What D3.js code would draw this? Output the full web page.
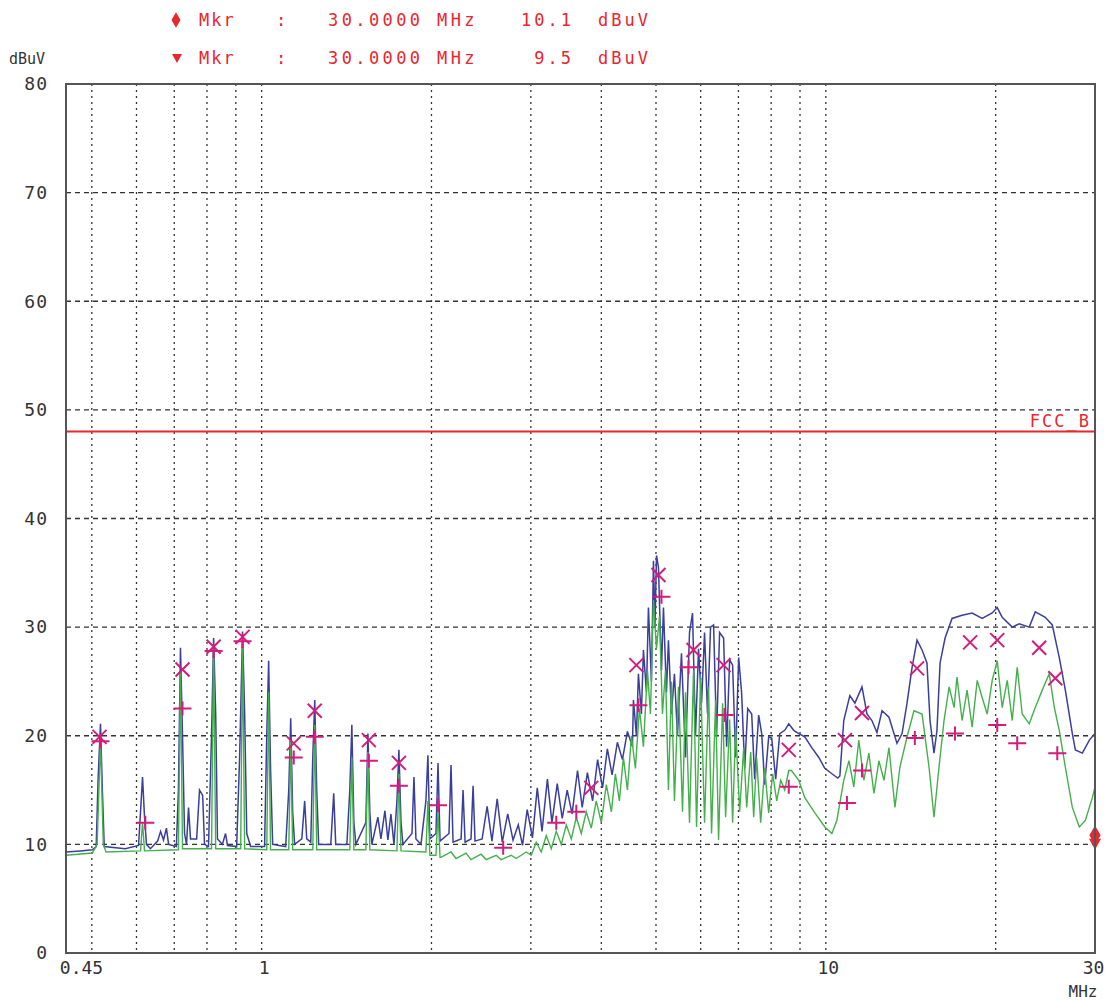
<!DOCTYPE html>
<html>
<head>
<meta charset="utf-8">
<script src="https://cdn.jsdelivr.net/npm/d3@7"></script>
<style>
  html, body { margin: 0; padding: 0; background: #fff; }
  svg { display: block; }
  text { font-family: "DejaVu Sans Mono", monospace; }
</style>
</head>
<body>
<div class="visualization"></div>
<script>
'use strict';

// peak detector trace (blue), [MHz, dBuV]
var peakTrace = [
  [0.450, 9.3], [0.477, 9.4], [0.501, 9.5], [0.509, 9.8], [0.513, 16], [0.518, 21.1], [0.522, 15], [0.526, 9.8],
  [0.573, 9.6], [0.605, 9.9], [0.610, 13], [0.615, 16.2], [0.620, 12.5], [0.625, 10], [0.635, 9.6],
  [0.654, 10.3], [0.662, 11.2], [0.670, 10.4], [0.678, 11.5], [0.684, 10], [0.706, 9.8], [0.712, 15],
  [0.718, 28.1], [0.724, 20], [0.730, 11], [0.736, 10], [0.742, 13.4], [0.748, 10.5], [0.767, 10.5],
  [0.776, 15], [0.786, 14.5], [0.792, 10], [0.805, 9.8], [0.815, 20], [0.822, 29.0], [0.829, 22],
  [0.835, 10.5], [0.852, 10], [0.863, 11], [0.870, 9.9], [0.903, 9.8], [0.914, 18], [0.925, 29.6],
  [0.933, 22], [0.941, 11], [0.956, 9.8], [1.012, 9.8], [1.021, 20], [1.029, 26.9], [1.037, 17],
  [1.046, 10], [1.103, 9.8], [1.117, 15], [1.126, 21.6], [1.135, 13], [1.144, 10], [1.178, 10.5],
  [1.192, 14], [1.202, 10.5], [1.222, 10.2], [1.232, 18], [1.242, 23.3], [1.252, 15], [1.262, 10],
  [1.326, 10], [1.342, 14.7], [1.353, 10], [1.416, 10], [1.433, 15], [1.445, 21], [1.457, 12],
  [1.469, 10], [1.530, 12], [1.543, 20.2], [1.555, 13], [1.568, 10], [1.607, 12.5], [1.627, 10.5],
  [1.654, 13.1], [1.674, 10.4], [1.695, 12.8], [1.716, 10], [1.737, 14], [1.751, 18.7], [1.766, 12],
  [1.780, 10], [1.847, 11], [1.862, 16.2], [1.877, 10.5], [1.916, 10], [1.955, 14], [1.971, 18.2],
  [1.987, 10.5], [2.037, 11], [2.054, 17.5], [2.071, 10.3], [2.148, 11], [2.166, 17.3], [2.184, 10.2],
  [2.257, 10.5], [2.275, 15], [2.294, 10.2], [2.350, 10.5], [2.370, 15.4], [2.389, 10.3], [2.459, 10.5],
  [2.51, 13.5], [2.56, 10.3], [2.615, 14.2], [2.67, 10.2], [2.73, 12.8], [2.79, 10.4], [2.85, 11.8],
  [2.90, 9.9], [2.956, 13.2], [3.02, 10.6], [3.08, 15.2], [3.14, 11.2], [3.21, 16.0], [3.27, 12],
  [3.342, 15.6], [3.41, 12.4], [3.48, 15.0], [3.55, 12.8], [3.63, 16.8], [3.70, 13.4], [3.779, 16.6],
  [3.86, 14.0], [3.94, 17.8], [4.02, 15.2], [4.10, 18.8], [4.18, 16.4], [4.271, 19.4], [4.36, 17.8],
  [4.45, 20.4], [4.542, 19.0], [4.560, 23.3],
  [4.616, 20], [4.654, 25.7], [4.711, 22], [4.750, 27.9], [4.809, 24], [4.848, 31.8], [4.908, 25],
  [4.949, 36.1], [4.980, 30], [5.010, 36.6], [5.051, 35.5], [5.113, 26], [5.155, 31.8], [5.218, 24],
  [5.261, 28.8], [5.326, 22], [5.391, 25.7], [5.458, 20], [5.548, 27.6], [5.640, 18], [5.733, 29.5],
  [5.804, 31.3], [5.875, 20], [5.948, 28], [6.022, 23], [6.096, 29.5], [6.171, 22], [6.247, 30],
  [6.325, 30.2], [6.403, 20], [6.482, 29.5], [6.589, 29], [6.671, 19], [6.753, 27], [6.836, 26.5],
  [6.920, 18], [7.007, 27.2], [7.093, 23.9], [7.181, 17], [7.270, 22.5], [7.390, 22], [7.480, 16],
  [7.603, 21.9], [7.697, 20.2], [7.792, 15.5], [7.920, 19.9], [8.018, 19.8], [8.150, 16], [8.285, 20.2],
  [8.456, 20.5], [8.596, 21.1], [8.774, 20.5], [8.954, 20.2], [9.177, 19.9], [9.443, 18.9], [9.719, 18],
  [9.960, 17], [10.25, 16.5], [10.50, 16.1], [10.59, 16.3], [10.76, 21.4], [11.03, 23.7], [11.26, 23],
  [11.59, 24.5], [11.83, 22], [12.07, 21.4], [12.32, 20.3], [12.58, 22.3], [12.94, 21.7], [13.37, 19.3],
  [13.65, 20.2], [13.93, 23], [14.22, 26.3], [14.51, 28.8], [14.81, 27.9], [15.11, 26.7], [15.30, 21.4],
  [15.55, 18.4], [15.74, 20.5], [15.94, 26.7], [16.27, 29], [16.74, 30.8], [17.44, 31.1], [18.17, 31.3],
  [18.93, 30.8], [19.72, 31.3], [20.13, 31.8], [20.54, 30.9], [21.40, 30], [22.02, 30.3], [22.94, 30],
  [23.51, 31.4], [24.49, 30.9], [25.20, 30.2], [25.93, 27.2], [26.58, 24.2], [27.35, 20.2], [27.69, 18.7],
  [28.49, 18.4], [29.32, 19.6], [30.0, 20.2]
];

// average detector trace (green), [MHz, dBuV]
var avgTrace = [
  [0.450, 9.0], [0.501, 9.2], [0.511, 10], [0.518, 19.5], [0.524, 10], [0.530, 9.3], [0.610, 9.4],
  [0.615, 12], [0.620, 9.4], [0.712, 9.5], [0.718, 26], [0.724, 9.6], [0.815, 9.6], [0.822, 28],
  [0.829, 9.6], [0.918, 9.6], [0.925, 28.5], [0.933, 9.6], [1.021, 9.5], [1.029, 24], [1.037, 9.5],
  [1.117, 9.5], [1.126, 19.5], [1.135, 9.5], [1.232, 9.5], [1.242, 21], [1.252, 9.5], [1.433, 9.5],
  [1.445, 18], [1.457, 9.5], [1.530, 9.5], [1.543, 18.5], [1.555, 9.5], [1.737, 9.4], [1.751, 16.5],
  [1.766, 9.4], [1.955, 9.3], [1.971, 14], [1.987, 9.0], [2.037, 9.0], [2.054, 13], [2.071, 8.8],
  [2.079, 8.8], [2.166, 9.3], [2.211, 8.7], [2.303, 9.2], [2.350, 8.6], [2.449, 9.1], [2.500, 8.6],
  [2.604, 9.0], [2.658, 8.6], [2.769, 9.0], [2.826, 8.7], [2.944, 9.3], [3.005, 9.0], [3.067, 10.2],
  [3.130, 9.3], [3.195, 10.8], [3.261, 9.6], [3.328, 11.2], [3.397, 10], [3.467, 11.8], [3.539, 10.5],
  [3.612, 12.5], [3.686, 11], [3.762, 13], [3.839, 11.5], [3.918, 14], [4.000, 12], [4.083, 15.5],
  [4.168, 13], [4.236, 16.5], [4.306, 14], [4.377, 18], [4.450, 15], [4.523, 20], [4.597, 17],
  [4.673, 22.5], [4.750, 19], [4.829, 26], [4.888, 22], [4.949, 32.5], [5.010, 28], [5.072, 31],
  [5.134, 22], [5.197, 26], [5.261, 15], [5.326, 25], [5.391, 14], [5.481, 24.5], [5.572, 13],
  [5.640, 24], [5.733, 12], [5.828, 26], [5.900, 11.6], [5.998, 25.4], [6.096, 12], [6.197, 24.5],
  [6.273, 11], [6.377, 23.3], [6.455, 10.4], [6.563, 23], [6.643, 12.5], [6.753, 21.5], [6.836, 12],
  [6.920, 20.8], [7.035, 13], [7.152, 18.9], [7.240, 13.4], [7.360, 18.5], [7.450, 12.5], [7.541, 18],
  [7.665, 12], [7.792, 17], [7.920, 12.9], [8.051, 16.5], [8.184, 14], [8.319, 15.9], [8.456, 15],
  [8.596, 16.8], [8.690, 16.8], [8.954, 15.9], [9.177, 14.3], [9.561, 12.9], [9.960, 11.6], [10.25, 11],
  [10.46, 12.2], [10.76, 15.9], [10.99, 17.7], [11.21, 15.3], [11.44, 19.6], [11.68, 15.9], [11.92, 18.4],
  [12.17, 14.7], [12.42, 17.7], [12.68, 15.9], [12.94, 18.9], [13.26, 13.4], [13.53, 17.1], [13.93, 19.9],
  [14.33, 22.3], [14.81, 22], [15.24, 17.1], [15.55, 12.5], [15.87, 17.1], [16.20, 21.4], [16.54, 24.5],
  [16.88, 22.6], [17.08, 25.4], [17.44, 21.4], [17.80, 24.2], [18.17, 20.8], [18.55, 25.1], [18.93, 23.5],
  [19.32, 22], [19.72, 25.1], [20.13, 26.9], [20.54, 22.6], [20.97, 25.1], [21.40, 21.4], [21.84, 26.3],
  [22.29, 22], [22.94, 21.1], [23.51, 22.6], [24.19, 24.2], [24.89, 25.7], [25.41, 22.6], [25.93, 20.5],
  [26.58, 17.1], [27.35, 13.4], [28.14, 11.6], [28.84, 12.2], [29.68, 14.3], [30.0, 15.3]
];

// final measurement results: quasi-peak (x) and average (+)
var qpMarks = [
  [0.516, 19.9], [0.724, 26.1], [0.822, 28.2], [0.925, 29.1], [1.14, 19.3], [1.242, 22.3], [1.549, 19.6],
  [1.751, 17.5], [3.839, 15.2], [4.616, 26.5], [5.051, 34.8], [5.828, 27.9], [6.589, 26.5], [8.596, 18.7],
  [10.81, 19.6], [11.59, 22.1], [14.51, 26.2], [18.02, 28.6], [20.13, 28.8], [23.89, 28.1], [25.51, 25.3]
];
var avMarks = [
  [0.518, 19.5], [0.622, 12.0], [0.724, 22.5], [0.822, 27.8], [0.925, 28.7], [1.14, 18.0], [1.242, 19.9],
  [1.549, 17.7], [1.751, 15.4], [2.054, 13.6], [2.68, 9.7], [3.328, 12.0], [3.612, 13.0], [4.654, 22.8],
  [5.113, 32.8], [5.71, 26.3], [6.616, 21.9], [8.596, 15.3], [10.90, 13.8], [11.59, 16.8], [14.38, 19.8],
  [16.94, 20.2], [20.13, 21.0], [21.84, 19.3], [25.72, 18.4]
];

var limitLevel = 48;
var limitName  = 'FCC_B';

var yTicks       = [0, 10, 20, 30, 40, 50, 60, 70, 80];
var xTickValues  = [0.45, 1, 10, 30];
var xTickLabels  = ['0.45', '1', '10', '30'];
var gridFreqs    = [0.5, 0.6, 0.7, 0.8, 0.9, 1, 2, 3, 4, 5, 6, 7, 8, 9, 10, 20];

var markerFreqs  = ['30.0000', '30.0000'];
var markerLevels = ['10.1', '9.5'];
var markerValues = [10.1, 9.5];

var red     = '#e8262e';
var magenta = '#d31c7c';

var svg = d3.select('.visualization')
  .append('svg')
  .attr('width', 1114)
  .attr('height', 1001);

var x = d3.scaleLog().domain([0.45, 30]).range([66, 1095]);
var y = d3.scaleLinear().domain([0, 80]).range([953, 84]);

// grid: dashed horizontals, dotted verticals
svg.append('g').selectAll('line').data(yTicks.slice(1, -1)).enter().append('line')
  .attr('x1', x(0.45)).attr('x2', x(30))
  .attr('y1', function(d){ return y(d); })
  .attr('y2', function(d){ return y(d); })
  .attr('stroke', '#333')
  .attr('stroke-width', 1.3)
  .attr('stroke-dasharray', '5,4');

svg.append('g').selectAll('line').data(gridFreqs).enter().append('line')
  .attr('x1', function(d){ return x(d); })
  .attr('x2', function(d){ return x(d); })
  .attr('y1', y(80)).attr('y2', y(0))
  .attr('stroke', '#333')
  .attr('stroke-width', 1.3)
  .attr('stroke-dasharray', '2,4');

// limit line
svg.append('line')
  .attr('x1', x(0.45)).attr('x2', x(30))
  .attr('y1', y(limitLevel)).attr('y2', y(limitLevel))
  .attr('stroke', red)
  .attr('stroke-width', 2);

svg.append('text')
  .attr('x', x(30) - 4)
  .attr('y', y(limitLevel) - 5)
  .attr('text-anchor', 'end')
  .attr('font-size', 17)
  .attr('letter-spacing', 2)
  .attr('fill', red)
  .text(limitName);

// traces
var line = d3.line()
  .x(function(d){ return x(d[0]); })
  .y(function(d){ return y(d[1]); });

svg.append('path')
  .datum(peakTrace)
  .attr('d', line)
  .attr('fill', 'none')
  .attr('stroke', '#3a3f9c')
  .attr('stroke-width', 1.5);

svg.append('path')
  .datum(avgTrace)
  .attr('d', line)
  .attr('fill', 'none')
  .attr('stroke', '#44b04c')
  .attr('stroke-width', 1.4);

// result markers
svg.append('g').selectAll('path').data(qpMarks).enter().append('path')
  .attr('transform', function(d){ return 'translate(' + x(d[0]) + ',' + y(d[1]) + ')'; })
  .attr('d', 'M-7,-7L7,7M-7,7L7,-7')
  .attr('stroke', magenta)
  .attr('stroke-width', 2);

svg.append('g').selectAll('path').data(avMarks).enter().append('path')
  .attr('transform', function(d){ return 'translate(' + x(d[0]) + ',' + y(d[1]) + ')'; })
  .attr('d', 'M-9,0L9,0M0,-7L0,7')
  .attr('stroke', magenta)
  .attr('stroke-width', 2);

// marker symbols at the right edge
svg.append('path')
  .attr('transform', 'translate(' + x(30) + ',' + (y(markerValues[0]) - 8) + ')')
  .attr('d', d3.symbol().type(d3.symbolDiamond).size(110)())
  .attr('fill', red);

svg.append('path')
  .attr('transform', 'translate(' + x(30) + ',' + y(markerValues[1]) + ')')
  .attr('d', 'M-6,-11L6,-11L0,0Z')
  .attr('fill', red);

// frame
svg.append('rect')
  .attr('x', x(0.45)).attr('y', y(80))
  .attr('width', x(30) - x(0.45))
  .attr('height', y(0) - y(80))
  .attr('fill', 'none')
  .attr('stroke', '#555')
  .attr('stroke-width', 2);

// axes (labels only)
var yAxis = svg.append('g')
  .attr('transform', 'translate(' + x(0.45) + ',0)')
  .call(d3.axisLeft(y).tickValues(yTicks).tickSize(0).tickPadding(18));
yAxis.select('.domain').remove();
yAxis.selectAll('text')
  .attr('font-family', '"DejaVu Sans Mono", monospace')
  .attr('font-size', 18)
  .attr('letter-spacing', 1)
  .attr('fill', '#333');

var xAxis = svg.append('g')
  .attr('transform', 'translate(0,' + y(0) + ')')
  .call(d3.axisBottom(x).tickValues(xTickValues).tickSize(0).tickPadding(8)
    .tickFormat(function(d, i){ return xTickLabels[i]; }));
xAxis.select('.domain').remove();
xAxis.selectAll('text')
  .attr('font-family', '"DejaVu Sans Mono", monospace')
  .attr('font-size', 18)
  .attr('fill', '#333')
  .attr('dx', function(d){ return d === 0.45 ? 15 : (d === 30 ? -2 : 2); });

svg.append('text')
  .attr('x', 1083).attr('y', 997)
  .attr('text-anchor', 'middle')
  .attr('font-size', 16)
  .attr('fill', '#333')
  .text('MHz');

svg.append('text')
  .attr('x', 9).attr('y', 64)
  .attr('font-size', 15)
  .attr('fill', '#333')
  .text('dBuV');

// marker readouts
var rows = [26, 64];
rows.forEach(function(ty, i){
  var g = svg.append('g').attr('fill', red).attr('font-size', 17);
  if(i === 0){
    g.append('path')
      .attr('transform', 'translate(176,' + (ty - 6) + ')')
      .attr('d', d3.symbol().type(d3.symbolDiamond).size(70)());
  } else {
    g.append('path')
      .attr('transform', 'translate(177,' + (ty - 6) + ')')
      .attr('d', 'M-5,-4L5,-4L0,5Z');
  }
  g.append('text').attr('x', 199).attr('y', ty).attr('letter-spacing', 2).text('Mkr');
  g.append('text').attr('x', 276).attr('y', ty).text(':');
  g.append('text').attr('x', 328).attr('y', ty).attr('letter-spacing', 3.4).text(markerFreqs[i] + ' MHz');
  g.append('text').attr('x', 574).attr('y', ty).attr('text-anchor', 'end').attr('letter-spacing', 3).text(markerLevels[i]);
  g.append('text').attr('x', 598).attr('y', ty).attr('letter-spacing', 3).text('dBuV');
});
</script>
</body>
</html>
